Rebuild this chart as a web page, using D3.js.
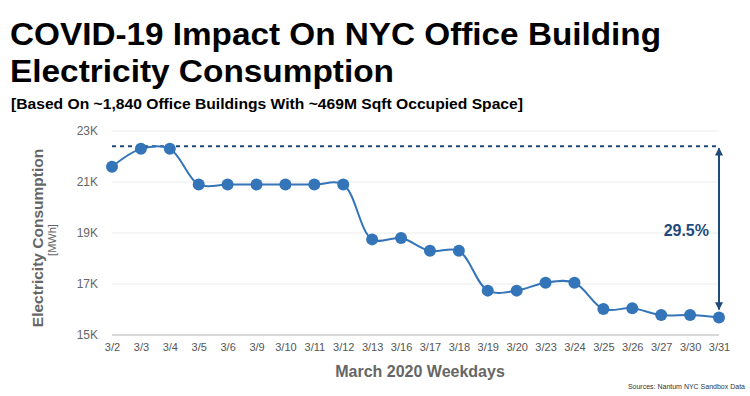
<!DOCTYPE html>
<html>
<head>
<meta charset="utf-8">
<script src="https://cdn.jsdelivr.net/npm/d3@7"></script>
<style>
  body { margin: 0; background: #fff; }
  text { font-family: "Liberation Sans", Arial, sans-serif; }
</style>
</head>
<body>
<svg id="chart" width="750" height="396"></svg>
<script>
var days = ["3/2", "3/3", "3/4", "3/5", "3/6", "3/9", "3/10", "3/11", "3/12", "3/13", "3/16",
  "3/17", "3/18", "3/19", "3/20", "3/23", "3/24", "3/25", "3/26", "3/27", "3/30", "3/31"];
var consumption = [21.6, 22.3, 22.3, 20.9, 20.9, 20.9, 20.9, 20.9, 20.9, 18.75, 18.8,
  18.3, 18.3, 16.74, 16.74, 17.05, 17.05, 16.02, 16.05, 15.78, 15.78, 15.69];
var yTicks = [15, 17, 19, 21, 23];
var baseline = 22.4;
var dropLabel = "29.5%";

var drawChart = function () {
  var svg = d3.select("#chart");
  var left = 112, right = 719, top = 131, bottom = 335;

  var x = d3.scalePoint().domain(days).range([left, right]);
  var y = d3.scaleLinear().domain([15, 23]).range([bottom, top]);

  var blue = "#3474b8";
  var navy = "#1f4a7c";

  // titles
  var title = svg.append("g").attr("class", "title").style("font-weight", "bold").attr("fill", "#000");
  title.append("text").attr("x", 10).attr("y", 45)
    .attr("textLength", 651).attr("lengthAdjust", "spacingAndGlyphs")
    .style("font-size", "31px").text("COVID-19 Impact On NYC Office Building");
  title.append("text").attr("x", 10).attr("y", 82)
    .attr("textLength", 384).attr("lengthAdjust", "spacingAndGlyphs")
    .style("font-size", "31px").text("Electricity Consumption");
  title.append("text").attr("x", 11).attr("y", 109)
    .attr("textLength", 512).attr("lengthAdjust", "spacingAndGlyphs")
    .style("font-size", "15px").text("[Based On ~1,840 Office Buildings With ~469M Sqft Occupied Space]");

  // grid
  svg.append("g").selectAll("line.grid")
    .data(yTicks.slice(1))
    .enter().append("line")
      .attr("x1", left).attr("x2", right)
      .attr("y1", function (d) { return y(d); })
      .attr("y2", function (d) { return y(d); })
      .attr("stroke", "#ececec").attr("stroke-width", 1);

  svg.append("line")
    .attr("x1", left).attr("x2", right)
    .attr("y1", y(15)).attr("y2", y(15))
    .attr("stroke", "#d8d8d8").attr("stroke-width", 2);

  var yAxis = svg.append("g")
    .attr("transform", "translate(" + (left - 8) + ",0)")
    .call(d3.axisLeft(y).tickValues(yTicks).tickSize(0).tickPadding(6)
      .tickFormat(function (d) { return d + "K"; }));
  yAxis.select(".domain").remove();
  yAxis.selectAll("text").attr("fill", "#666").style("font-size", "12px")
    .style("font-family", "'Liberation Sans', Arial, sans-serif");

  var xAxis = svg.append("g")
    .attr("transform", "translate(0," + bottom + ")")
    .call(d3.axisBottom(x).tickSize(0).tickPadding(8));
  xAxis.select(".domain").remove();
  xAxis.selectAll("text").attr("fill", "#555").style("font-size", "11px")
    .style("font-family", "'Liberation Sans', Arial, sans-serif");

  // axis titles
  svg.append("text")
    .attr("transform", "translate(43,238) rotate(-90)")
    .attr("text-anchor", "middle")
    .attr("fill", "#666").style("font-weight", "bold").style("font-size", "15.5px")
    .text("Electricity Consumption");
  svg.append("text")
    .attr("transform", "translate(56,240) rotate(-90)")
    .attr("text-anchor", "middle")
    .attr("fill", "#666").style("font-size", "11px")
    .text("[MWh]");
  svg.append("text")
    .attr("x", 420).attr("y", 377)
    .attr("text-anchor", "middle")
    .attr("fill", "#666").style("font-weight", "bold").style("font-size", "16px")
    .text("March 2020 Weekdays");
  svg.append("text")
    .attr("x", 745).attr("y", 389)
    .attr("text-anchor", "end")
    .attr("fill", "#333").style("font-size", "7px")
    .text("Sources: Nantum NYC Sandbox Data");

  // baseline dashed
  svg.append("line")
    .attr("x1", left).attr("x2", right)
    .attr("y1", y(baseline)).attr("y2", y(baseline))
    .attr("stroke", navy).attr("stroke-width", 2)
    .attr("stroke-dasharray", "4,4");

  // arrow
  var defs = svg.append("defs");
  defs.append("marker").attr("id", "head")
    .attr("viewBox", "0 0 10 10").attr("refX", 9).attr("refY", 5)
    .attr("markerWidth", 4).attr("markerHeight", 4).attr("orient", "auto-start-reverse")
    .append("path").attr("d", "M0,0L10,5L0,10z").attr("fill", navy);

  var last = days[days.length - 1];
  svg.append("line")
    .attr("x1", x(last)).attr("x2", x(last))
    .attr("y1", y(baseline) + 2).attr("y2", y(consumption[consumption.length - 1]) - 8)
    .attr("stroke", navy).attr("stroke-width", 2)
    .attr("marker-start", "url(#head)").attr("marker-end", "url(#head)");

  svg.append("text")
    .attr("x", 709).attr("y", 236)
    .attr("text-anchor", "end")
    .attr("fill", navy).style("font-weight", "bold").style("font-size", "16px")
    .text(dropLabel);

  // series
  var line = d3.line()
    .x(function (d, i) { return x(days[i]); })
    .y(function (d) { return y(d); })
    .curve(d3.curveCatmullRom.alpha(0.5));

  svg.append("path")
    .datum(consumption)
    .attr("d", line)
    .attr("fill", "none").attr("stroke", blue).attr("stroke-width", 2);

  svg.selectAll("circle.pt")
    .data(consumption)
    .enter().append("circle")
      .attr("cx", function (d, i) { return x(days[i]); })
      .attr("cy", function (d) { return y(d); })
      .attr("r", 6)
      .attr("fill", blue);
};

drawChart();
</script>
</body>
</html>
